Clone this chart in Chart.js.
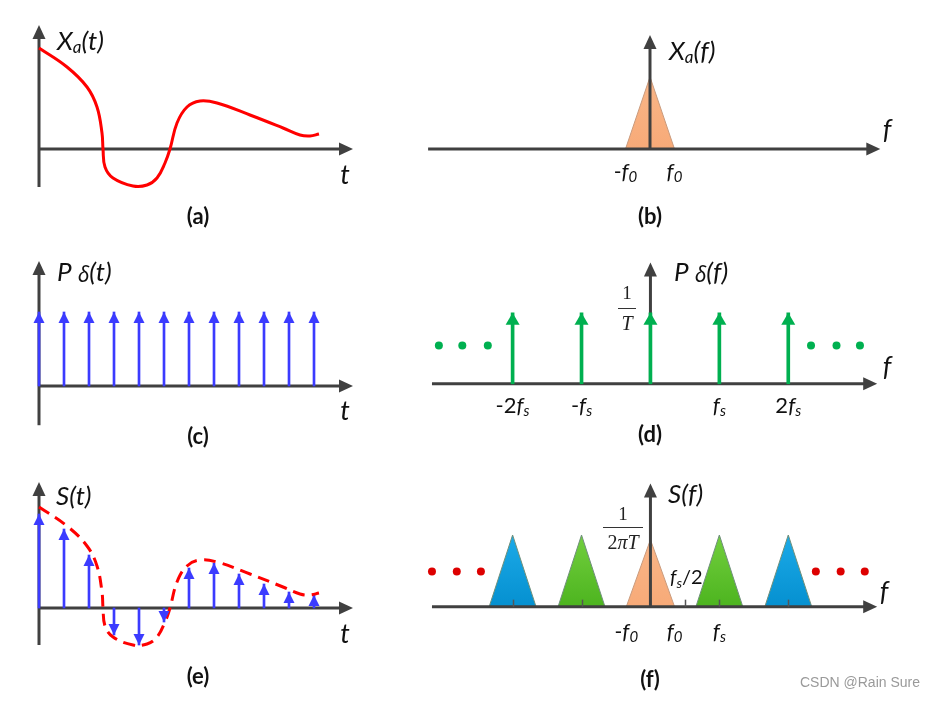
<!DOCTYPE html>
<html><head><meta charset="utf-8">
<script src="https://cdn.jsdelivr.net/npm/chart.js@4.4.1/dist/chart.umd.min.js"></script>
<style>
html,body{margin:0;padding:0;background:#fff;}
body{width:937px;height:701px;position:relative;overflow:hidden;}
canvas{position:absolute;}
</style></head><body>
<canvas id="pa"></canvas><canvas id="pb"></canvas>
<canvas id="pc"></canvas><canvas id="pd"></canvas>
<canvas id="pe"></canvas><canvas id="pf"></canvas>
<script>
// ---------------- data ----------------
// analog signal x_a(t): t in sampling periods T, amplitude normalised
const analogT = [0, 1.12, 1.92, 2.32, 2.52, 2.56, 2.64, 2.96, 3.76, 4.32, 4.72, 5.04, 5.24, 5.52, 5.92, 6.44, 7.12, 8.44, 9.76, 10.44, 10.84, 11.2];
const analogX = [1.01, 0.82, 0.62, 0.42, 0.16, 0, -0.18, -0.29, -0.37, -0.36, -0.29, -0.14, 0, 0.26, 0.42, 0.48, 0.46, 0.34, 0.21, 0.14, 0.13, 0.15];
// impulse train and samples
const sampleT = [0, 1, 2, 3, 4, 5, 6, 7, 8, 9, 10, 11];
const combValues = [1, 1, 1, 1, 1, 1, 1, 1, 1, 1, 1, 1];
const sampledValues = [0.94, 0.79, 0.53, -0.27, -0.37, -0.14, 0.40, 0.45, 0.34, 0.24, 0.16, 0.13];
// spectra: frequency in units of fs
const f0 = 0.35;
const basebandPeak = 1.03;
const combF = [-2, -1, 0, 1, 2];
const combSpecValues = [1, 1, 1, 1, 1];
const combDotsF = [-3.07, -2.73, -2.36, 2.33, 2.70, 3.04];
const combDotsLevel = 0.54;
const imageCenters = [-2, -1, 0, 1, 2];
const imageHeights = [1.06, 1.06, 0.99, 1.06, 1.06];
const imageKinds = ['blue', 'green', 'orange', 'green', 'blue'];
const sDotsF = [-3.17, -2.81, -2.46, 2.40, 2.76, 3.11];
const sDotsLevel = 0.52;
const sTickF = [-2, -1, 0.5, 1, 2];

// ---------------- styling helpers ----------------
const SANS = "Lato, 'Open Sans', sans-serif";
const SERIF = "'Liberation Serif', 'DejaVu Serif', serif";
const GRK = "'Noto Sans', 'DejaVu Sans', sans-serif";
const AXIS = '#404040';
const it = (t, size, dy = 0, fam = SANS) => ({t, size, style: 'italic', weight: 'normal', dy, fam});
const up = (t, size, dy = 0, fam = SANS) => ({t, size, style: 'normal', weight: 'normal', dy, fam});
const bd = (t, size) => ({t, size, style: 'normal', weight: 'bold', dy: 0, fam: SANS});

function drawRich(ctx, segs, x, y, align, color) {
  ctx.save();
  ctx.fillStyle = color || '#111';
  ctx.textBaseline = 'middle';
  ctx.textAlign = 'left';
  let w = 0;
  const ws = segs.map(s => { ctx.font = `${s.style} ${s.weight} ${s.size}px ${s.fam}`; const m = ctx.measureText(s.t).width; w += m; return m; });
  let cx = align === 'center' ? x - w / 2 : (align === 'right' ? x - w : x);
  segs.forEach((s, i) => { ctx.font = `${s.style} ${s.weight} ${s.size}px ${s.fam}`; ctx.fillText(s.t, cx, y + s.dy); cx += ws[i]; });
  ctx.restore();
}

function arrowHead(ctx, tx, ty, dirx, diry, w, len, color) {
  const bx = tx - dirx * len, by = ty - diry * len;
  const px = -diry, py = dirx;
  ctx.beginPath();
  ctx.moveTo(tx, ty);
  ctx.lineTo(bx + px * w / 2, by + py * w / 2);
  ctx.lineTo(bx - px * w / 2, by - py * w / 2);
  ctx.closePath();
  ctx.fillStyle = color; ctx.fill();
}

function drawAxes(chart, ex) {
  const ctx = chart.ctx, xs = chart.scales.x, ys = chart.scales.y;
  const y0 = ys.getPixelForValue(0), x0 = xs.getPixelForValue(0);
  const a = ex.axes;
  ctx.save();
  ctx.strokeStyle = AXIS; ctx.lineWidth = 3; ctx.lineCap = 'butt';
  const xa = xs.getPixelForValue(a.xFrom), xb = xs.getPixelForValue(a.xTo);
  ctx.beginPath(); ctx.moveTo(xa, y0); ctx.lineTo(xb - 8, y0); ctx.stroke();
  arrowHead(ctx, xb, y0, 1, 0, 13, 14, AXIS);
  const ya = ys.getPixelForValue(a.yFrom), yb = ys.getPixelForValue(a.yTo);
  ctx.beginPath(); ctx.moveTo(x0, ya); ctx.lineTo(x0, yb + 8); ctx.stroke();
  arrowHead(ctx, x0, yb, 0, -1, 13, 14, AXIS);
  ctx.restore();
}

const sketchPlugin = {
  id: 'sketch',
  beforeDatasetsDraw(chart) {
    const ex = chart.canvas._sketch;
    if (!ex.axesOnTop) drawAxes(chart, ex);
  },
  afterDatasetsDraw(chart) {
    const ex = chart.canvas._sketch, ctx = chart.ctx;
    const xs = chart.scales.x, ys = chart.scales.y;
    // arrow heads on impulse stems
    chart.data.datasets.forEach((ds, i) => {
      if (!ds.arrowHead) return;
      chart.getDatasetMeta(i).data.forEach(el => {
        const dir = el.y <= el.base ? -1 : 1;
        arrowHead(ctx, el.x, el.y, 0, dir, ds.arrowHead.w, ds.arrowHead.len, ds.backgroundColor);
      });
    });
    if (ex.axesOnTop) drawAxes(chart, ex);
    // small ticks on the frequency axis
    if (ex.ticks) {
      const y0 = ys.getPixelForValue(0);
      ctx.save(); ctx.strokeStyle = '#555'; ctx.lineWidth = 1.5;
      ex.ticks.forEach(f => { const x = Math.round(xs.getPixelForValue(f)) + 0.5; ctx.beginPath(); ctx.moveTo(x, y0); ctx.lineTo(x, y0 - 7); ctx.stroke(); });
      ctx.restore();
    }
    const L = ex.rect[0], T = ex.rect[1];
    (ex.labels || []).forEach(lb => {
      const x = lb.fx !== undefined ? xs.getPixelForValue(lb.fx) : lb.x - L;
      drawRich(ctx, lb.segs, x, lb.y - T, lb.align, lb.color);
    });
    (ex.fracs || []).forEach(fr => {
      const x = fr.x - L;
      drawRich(ctx, fr.num, x, fr.ny - T, 'center', '#222');
      drawRich(ctx, fr.den, x, fr.dy - T, 'center', '#222');
      ctx.save(); ctx.strokeStyle = '#333'; ctx.lineWidth = 1;
      ctx.beginPath(); ctx.moveTo(x - fr.hw, fr.ly - T + 0.5); ctx.lineTo(x + fr.hw, fr.ly - T + 0.5); ctx.stroke();
      ctx.restore();
    });
  }
};

function panelChart(id, P, datasets, ex) {
  const [L, T, W, H] = P.rect, [ox, oy] = P.origin;
  const cv = document.getElementById(id);
  cv.width = W; cv.height = H; cv.style.left = L + 'px'; cv.style.top = T + 'px';
  ex.rect = P.rect;
  cv._sketch = ex;
  return new Chart(cv, {
    type: 'scatter',
    data: {datasets},
    options: {
      responsive: false, animation: false, events: [],
      layout: {padding: 0},
      plugins: {legend: {display: false}, tooltip: {enabled: false}},
      scales: {
        x: {type: 'linear', display: false, offset: false, grace: 0, min: -(ox - L) / P.sx, max: (L + W - ox) / P.sx},
        y: {type: 'linear', display: false, offset: false, grace: 0, min: -(T + H - oy) / P.sy, max: (oy - T) / P.sy}
      }
    },
    plugins: [sketchPlugin]
  });
}

const pts = (xs, ys) => xs.map((x, i) => ({x, y: ys[i]}));
const tri = (c, hw, h) => [{x: c - hw, y: 0}, {x: c, y: h}, {x: c + hw, y: 0}];
const PALETTE = {
  blue: ['#1CAAE8', '#0590D0'],
  green: ['#72CF3E', '#4DB41F'],
  orange: ['#FAB688', '#F7AA78']
};
function gradFill(kind) {
  return (c) => {
    const chart = c.chart; if (!chart.chartArea) return PALETTE[kind][0];
    const ys = chart.scales.y;
    const g = chart.ctx.createLinearGradient(0, ys.getPixelForValue(1.06), 0, ys.getPixelForValue(0));
    g.addColorStop(0, PALETTE[kind][0]); g.addColorStop(1, PALETTE[kind][1]);
    return g;
  };
}
const curveStyle = {type: 'line', borderColor: '#FF0000', borderWidth: 3, pointRadius: 0, tension: 0.4, fill: false, clip: false};
const stemStyle = (color, w, head) => ({type: 'bar', backgroundColor: color, borderWidth: 0, barThickness: w, arrowHead: head});

// ---------------- panel (a) ----------------
const leftAxes = {xFrom: 0, xTo: 12.56};
panelChart('pa', {rect: [0, 0, 420, 235], origin: [39, 149], sx: 25, sy: 100}, [
  Object.assign({data: pts(analogT, analogX)}, curveStyle)
], {
  axes: Object.assign({yFrom: -0.38, yTo: 1.24}, leftAxes),
  labels: [
    {x: 57, y: 42, align: 'left', segs: [it('X', 26), it('a', 17, 6), it('(t)', 26)]},
    {x: 345, y: 175, align: 'center', segs: [it('t', 27)]},
    {x: 198, y: 217, align: 'center', segs: [bd('(a)', 22)]}
  ]
});

// ---------------- panel (c) ----------------
panelChart('pc', {rect: [0, 235, 420, 230], origin: [39, 386], sx: 25, sy: 74}, [
  Object.assign({data: pts(sampleT, combValues)}, stemStyle('#3B3BFF', 2, {w: 11, len: 11}))
], {
  axes: Object.assign({yFrom: -0.53, yTo: 1.69}, leftAxes),
  labels: [
    {x: 57, y: 273, align: 'left', segs: [it('P ', 26), it('δ', 21, 3, GRK), it('(t)', 26)]},
    {x: 345, y: 411, align: 'center', segs: [it('t', 27)]},
    {x: 198, y: 437, align: 'center', segs: [bd('(c)', 22)]}
  ]
});

// ---------------- panel (e) ----------------
panelChart('pe', {rect: [0, 465, 420, 236], origin: [39, 608], sx: 25, sy: 100}, [
  Object.assign({data: pts(analogT, analogX), borderDash: [12, 7]}, curveStyle),
  Object.assign({data: pts(sampleT, sampledValues)}, stemStyle('#3B3BFF', 2, {w: 11, len: 11}))
], {
  axes: Object.assign({yFrom: -0.37, yTo: 1.26}, leftAxes),
  labels: [
    {x: 56, y: 497, align: 'left', segs: [it('S(t)', 26)]},
    {x: 345, y: 634, align: 'center', segs: [it('t', 27)]},
    {x: 198, y: 677, align: 'center', segs: [bd('(e)', 22)]}
  ]
});

// ---------------- panel (b) ----------------
const rightAxesX = {xFrom: -3.17, xTo: 3.29};
const f0Labels = (y) => [
  {fx: -f0, y, align: 'center', segs: [up('-', 21), it('f', 22), it('0', 15, 5)]},
  {fx: f0, y, align: 'center', segs: [it('f', 22), it('0', 15, 5)]}
];
panelChart('pb', {rect: [420, 0, 517, 235], origin: [650, 149], sx: 70, sy: 70}, [
  {type: 'line', data: tri(0, f0, basebandPeak), fill: 'origin', backgroundColor: gradFill('orange'), borderColor: '#C99A7C', borderWidth: 1, pointRadius: 0, tension: 0}
], {
  axesOnTop: true,
  axes: Object.assign({yFrom: 0, yTo: 1.63}, rightAxesX),
  labels: [
    {x: 669, y: 52, align: 'left', segs: [it('X', 26), it('a', 17, 6), it('(f)', 26)]},
    {x: 887, y: 130, align: 'center', segs: [it('f', 27)]},
    ...f0Labels(172),
    {x: 650, y: 217, align: 'center', segs: [bd('(b)', 22)]}
  ]
});

// ---------------- panel (d) ----------------
panelChart('pd', {rect: [420, 235, 517, 230], origin: [650, 385], sx: 70, sy: 73.5}, [
  Object.assign({data: pts(combF, combSpecValues)}, stemStyle('#00B050', 3, {w: 14, len: 12})),
  {type: 'scatter', data: combDotsF.map(f => ({x: f, y: combDotsLevel})), pointRadius: 4, pointBackgroundColor: '#00B050', pointBorderWidth: 0}
], {
  axes: Object.assign({yFrom: 0, yTo: 1.71}, rightAxesX),
  labels: [
    {x: 674, y: 273, align: 'left', segs: [it('P ', 26), it('δ', 21, 3, GRK), it('(f)', 26)]},
    {x: 887, y: 367, align: 'center', segs: [it('f', 27)]},
    {fx: -2, y: 406, align: 'center', segs: [up('-2', 22), it('f', 22), it('s', 15, 5)]},
    {fx: -1, y: 406, align: 'center', segs: [up('-', 22), it('f', 22), it('s', 15, 5)]},
    {fx: 1, y: 406, align: 'center', segs: [it('f', 22), it('s', 15, 5)]},
    {fx: 2, y: 406, align: 'center', segs: [up('2', 22), it('f', 22), it('s', 15, 5)]},
    {x: 650, y: 435, align: 'center', segs: [bd('(d)', 22)]}
  ],
  fracs: [{x: 627, ny: 294, ly: 308, dy: 325, hw: 9, num: [up('1', 19, 0, SERIF)], den: [it('T', 20, 0, SERIF)]}]
});

// ---------------- panel (f) ----------------
panelChart('pf', {rect: [420, 465, 517, 236], origin: [650, 607.5], sx: 70, sy: 70},
  imageCenters.map((c, i) => ({
    type: 'line', data: tri(c, f0 - 0.01 * Math.abs(Math.sign(c)), imageHeights[i]), fill: 'origin',
    backgroundColor: gradFill(imageKinds[i]),
    borderColor: imageKinds[i] === 'orange' ? '#C99A7C' : '#6F8F7A', borderWidth: 1, pointRadius: 0, tension: 0
  })).concat([
    {type: 'scatter', data: sDotsF.map(f => ({x: f, y: sDotsLevel})), pointRadius: 4, pointBackgroundColor: '#DD0000', pointBorderWidth: 0}
  ]), {
  axesOnTop: true,
  ticks: sTickF,
  axes: Object.assign({yFrom: 0, yTo: 1.82}, rightAxesX),
  labels: [
    {x: 668, y: 495, align: 'left', segs: [it('S(f)', 26)]},
    {x: 884, y: 592, align: 'center', segs: [it('f', 27)]},
    {x: 670, y: 578, align: 'left', segs: [it('f', 20), it('s', 14, 5), up('/2', 20)]},
    ...f0Labels(632),
    {fx: 1, y: 632, align: 'center', segs: [it('f', 22), it('s', 15, 5)]},
    {x: 650, y: 680, align: 'center', segs: [bd('(f)', 22)]},
    {x: 920, y: 683, align: 'right', color: '#9A9A9A', segs: [up('CSDN @Rain Sure', 14, 0, "'Liberation Sans', Arial, sans-serif")]}
  ],
  fracs: [{x: 623, ny: 515, ly: 527, dy: 544, hw: 20, num: [up('1', 19, 0, SERIF)], den: [up('2', 20, 0, SERIF), it('π', 20, 0, SERIF), it('T', 20, 0, SERIF)]}]
});
</script>
</body></html>
